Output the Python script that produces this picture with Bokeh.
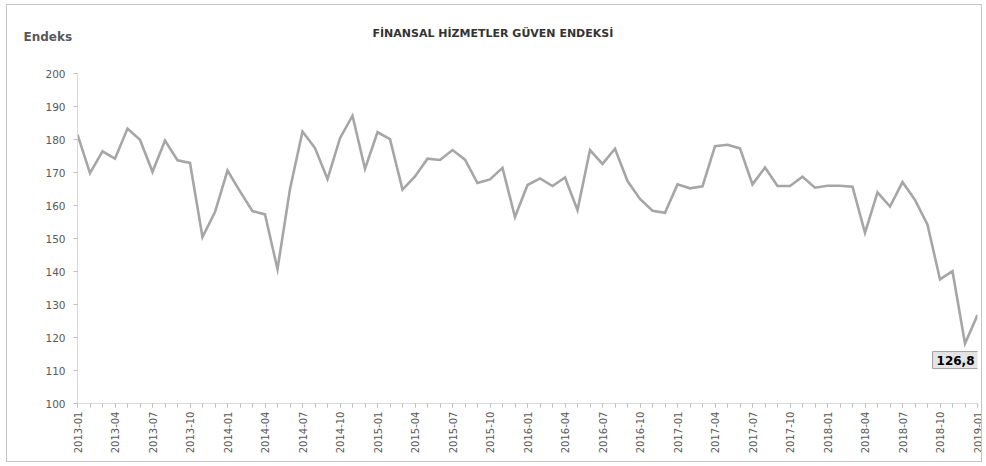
from bokeh.plotting import figure
from bokeh.models import Range1d, FixedTicker, Label, ColumnDataSource
from bokeh.embed import file_html
from bokeh.resources import INLINE
import math

# ---- data ----
months = [f"{y}-{m:02d}" for y in range(2013, 2020) for m in range(1, 13)][:73]
values = [181.5, 169.8, 176.4, 174.2, 183.3, 179.9, 170.2, 179.7, 173.7, 172.9, 150.4, 158.0,
          170.6, 164.3, 158.3, 157.3, 140.7, 165.0, 182.4, 177.4, 168.0, 180.4, 187.2, 171.1,
          182.2, 180.1, 164.8, 168.8, 174.2, 173.8, 176.8, 173.9, 166.8, 167.9, 171.4, 156.5,
          166.2, 168.2, 165.9, 168.5, 158.6, 176.8, 172.6, 177.2, 167.4, 162.0, 158.4, 157.8,
          166.4, 165.2, 165.8, 178.0, 178.4, 177.3, 166.4, 171.5, 165.9, 165.9, 168.7, 165.4,
          166.0, 166.0, 165.7, 151.7, 164.0, 159.7, 167.1, 161.7, 154.2, 137.6, 140.1, 118.2,
          126.8]
tick_labels = ["2013-01", "2013-04", "2013-07", "2013-10", "2014-01", "2014-04", "2014-07",
               "2014-10", "2015-01", "2015-04", "2015-07", "2015-10", "2016-01", "2016-04",
               "2016-07", "2016-10", "2017-01", "2017-04", "2017-07", "2017-10", "2018-01",
               "2018-04", "2018-07", "2018-10", "2019-01"]
y_ticks = [100, 110, 120, 130, 140, 150, 160, 170, 180, 190, 200]
title_text = "FİNANSAL HİZMETLER GÜVEN ENDEKSİ"
y_title = "Endeks"
last_label = "126,8"

xs = list(range(len(months)))
src = ColumnDataSource(dict(x=xs, y=values, month=months))

p = figure(width=976, height=458, output_backend="svg", toolbar_location=None,
           x_range=Range1d(0, len(months) - 1), y_range=Range1d(100, 200),
           min_border_left=70, min_border_right=6, min_border_top=68, min_border_bottom=60)
p.styles = {"border": "1px solid #c4c4c4", "margin-left": "6px", "margin-top": "4px"}
p.background_fill_color = "white"
p.border_fill_color = "white"
p.outline_line_color = None
p.xgrid.visible = False
p.ygrid.visible = False

p.line("x", "y", source=src, line_color="#a6a6a6", line_width=2.6, line_join="miter")

FONT = "DejaVu Sans"

# x axis
xa = p.xaxis[0]
major_idx = [months.index(t) for t in tick_labels]
xa.ticker = FixedTicker(ticks=major_idx, minor_ticks=xs)
xa.major_label_overrides = {i: t for i, t in zip(major_idx, tick_labels)}
xa.major_label_orientation = math.pi / 2
xa.axis_line_color = "#d9d9d9"
xa.major_tick_line_color = "#bfbfbf"
xa.minor_tick_line_color = "#bfbfbf"
xa.major_tick_in = 0
xa.major_tick_out = 4
xa.minor_tick_in = 0
xa.minor_tick_out = 4
xa.major_label_standoff = 4
xa.major_label_text_font = FONT
xa.major_label_text_font_size = "10px"
xa.major_label_text_color = "#595959"

# y axis
ya = p.yaxis[0]
ya.ticker = FixedTicker(ticks=y_ticks)
ya.axis_line_color = "#d9d9d9"
ya.major_tick_line_color = "#bfbfbf"
ya.minor_tick_line_color = None
ya.major_tick_in = 0
ya.major_tick_out = 4
ya.major_label_standoff = 8
ya.major_label_text_font = FONT
ya.major_label_text_font_size = "10.5px"
ya.major_label_text_color = "#595959"

# title and axis caption (canvas units, in a side panel so they are not clipped)
p.add_layout(Label(x=364, y=27, x_units="canvas", y_units="canvas", text=title_text,
                   text_font=FONT, text_font_style="bold", text_font_size="11px",
                   text_color="#333333", text_align="left", text_baseline="alphabetic"),
             "above")
p.add_layout(Label(x=15, y=30, x_units="canvas", y_units="canvas", text=y_title,
                   text_font=FONT, text_font_style="bold", text_font_size="12px",
                   text_color="#595959", text_align="left", text_baseline="alphabetic"),
             "above")

# last value label with shadow
last_x = xs[-1]
last_y = values[-1]
p.add_layout(Label(x=last_x, y=last_y, x_offset=3, y_offset=-48, text=last_label,
                   text_font=FONT, text_font_style="bold", text_font_size="12px",
                   text_alpha=0.0, text_align="right", text_baseline="middle",
                   background_fill_color="#8c8c8c", background_fill_alpha=0.45,
                   padding=(4, 4)))
p.add_layout(Label(x=last_x, y=last_y, x_offset=1, y_offset=-45, text=last_label,
                   text_font=FONT, text_font_style="bold", text_font_size="12px",
                   text_color="#000000", text_align="right", text_baseline="middle",
                   background_fill_color="#e4e4e4", border_line_color="#a0a0a0",
                   border_line_width=1, padding=(4, 4)))

open("out.html", "w").write(file_html(p, INLINE))
